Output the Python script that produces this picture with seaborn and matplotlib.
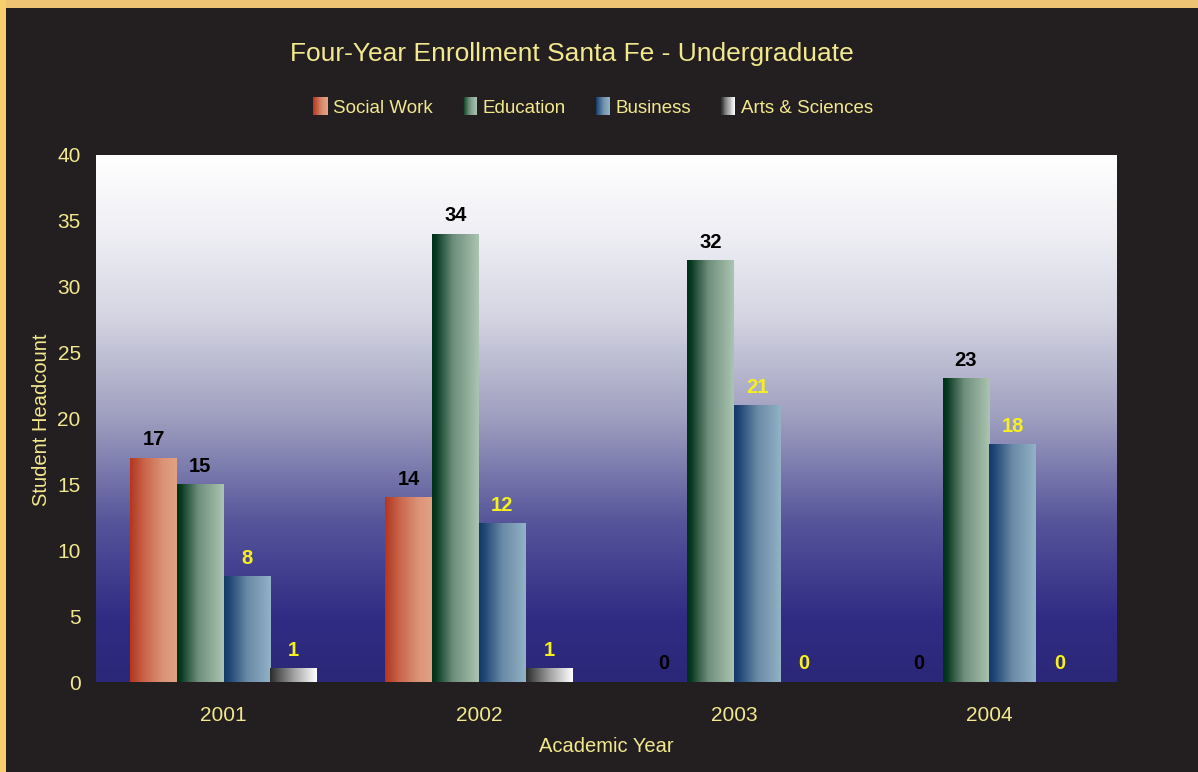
import numpy as np
import pandas as pd
import matplotlib
matplotlib.use("Agg")
import matplotlib.pyplot as plt
from matplotlib.colors import LinearSegmentedColormap
from matplotlib.patches import Rectangle
from matplotlib.legend_handler import HandlerBase
import seaborn as sns

# ---- data ----
years = ["2001", "2002", "2003", "2004"]
programs = ["Social Work", "Education", "Business", "Arts & Sciences"]
social_work = [17, 14, 0, 0]
education = [15, 34, 32, 23]
business = [8, 12, 21, 18]
arts_sciences = [1, 1, 0, 0]

series = {"Social Work": social_work, "Education": education,
          "Business": business, "Arts & Sciences": arts_sciences}
df = pd.DataFrame([(y, p, series[p][i]) for p in programs for i, y in enumerate(years)],
                  columns=["Academic Year", "Program", "Headcount"])

# ---- styling ----
BG = "#231f20"
TXT = "#f2e88e"
sns.set_theme(style="white")
plt.rcParams["font.family"] = ["Liberation Sans", "DejaVu Sans"]

bar_cmaps = {
    "Social Work": LinearSegmentedColormap.from_list(
        "sw", [(0, "#b3361f"), (0.3, "#c9644a"), (0.7, "#db9276"), (1, "#e2a383")]),
    "Education": LinearSegmentedColormap.from_list(
        "ed", [(0, "#00301a"), (0.08, "#07391f"), (0.45, "#6e8e7c"), (1, "#abc4b1")]),
    "Business": LinearSegmentedColormap.from_list(
        "bu", [(0, "#143a6a"), (0.1, "#1d4474"), (0.5, "#6a8aa6"), (1, "#92b2c6")]),
    "Arts & Sciences": LinearSegmentedColormap.from_list(
        "as", [(0, "#2c2c2c"), (0.5, "#a0a0a0"), (1, "#ffffff")]),
}
label_colors = {"Social Work": "black", "Education": "black",
                "Business": "#f5f01e", "Arts & Sciences": "#f5f01e"}

bg_cmap = LinearSegmentedColormap.from_list(
    "bg", [(0, "#2b2878"), (0.12, "#302c84"), (0.3, "#55549a"),
           (0.5, "#9e9ebf"), (0.7, "#d6d6e3"), (0.85, "#eeeef4"), (1, "#ffffff")])

fig = plt.figure(figsize=(11.98, 7.72), dpi=100, facecolor=BG)
ax = fig.add_axes([96 / 1198, 90 / 772, 1021 / 1198, 527 / 772])

sns.barplot(data=df, x="Academic Year", y="Headcount", hue="Program",
            hue_order=programs, order=years, width=0.733, ax=ax,
            legend=False, errorbar=None, palette=["#cc6a50", "#6e8e7c", "#6a8aa6", "#a0a0a0"])

ax.set_xlim(-0.5, 3.5)
ax.set_ylim(0, 40)

# vertical gradient backdrop of the plotting area
grad = np.linspace(0, 1, 256).reshape(-1, 1)
ax.imshow(grad, cmap=bg_cmap, origin="lower", extent=[0, 1, 0, 1],
          transform=ax.transAxes, aspect="auto", zorder=0)

# horizontal gradient fill for each bar + value labels
hgrad = np.linspace(0, 1, 128).reshape(1, -1)
for prog, cont in zip(programs, ax.containers):
    for rect, val in zip(cont.patches, series[prog]):
        x0, w = rect.get_x(), rect.get_width()
        h = rect.get_height()
        rect.set_visible(False)
        if h > 0:
            ax.imshow(hgrad, cmap=bar_cmaps[prog], extent=[x0, x0 + w, 0, h],
                      aspect="auto", zorder=2, interpolation="bilinear")
        ax.annotate(f"{val}", (x0 + w / 2, h), xytext=(0, 13), textcoords="offset points",
                    ha="center", va="center", fontsize=14.5, fontweight="bold",
                    color=label_colors[prog], zorder=3)

ax.set_xlim(-0.5, 3.5)
ax.set_ylim(0, 40)
ax.set_yticks(range(0, 41, 5))
for s in ax.spines.values():
    s.set_visible(False)
ax.tick_params(axis="both", colors=TXT, labelsize=15, length=0)
ax.tick_params(axis="y", pad=11)
ax.tick_params(axis="x", pad=17)
ax.set_xlabel("Academic Year", color=TXT, fontsize=14.5)
ax.set_ylabel("Student Headcount", color=TXT, fontsize=14.5)
ax.xaxis.set_label_coords(0.4995, -(746 - 682) / 527)
ax.yaxis.set_label_coords((42 - 96) / 1021, 0.497)
ax.xaxis.label.set_va("center")
ax.yaxis.label.set_va("center")

fig.text(572 / 1198, 1 - 54 / 772, "Four-Year Enrollment Santa Fe - Undergraduate",
         ha="center", va="center", color=TXT, fontsize=19)


# legend keys drawn as small horizontal gradients
class GradientHandler(HandlerBase):
    def __init__(self, cmap):
        super().__init__()
        self.cmap = cmap

    def create_artists(self, legend, orig_handle, xdescent, ydescent, width, height,
                       fontsize, trans):
        n = 16
        arts = []
        for i in range(n):
            arts.append(Rectangle((-xdescent + width * i / n, -ydescent), width / n + 0.3, height,
                                  facecolor=self.cmap((i + 0.5) / n), edgecolor="none",
                                  transform=trans))
        return arts


handles = [Rectangle((0, 0), 1, 1) for _ in programs]
hmap = {h: GradientHandler(bar_cmaps[p]) for h, p in zip(handles, programs)}
leg = fig.legend(handles, programs, handler_map=hmap, loc="center",
                 bbox_to_anchor=(593 / 1198, 1 - 107 / 772), ncol=4, frameon=False,
                 fontsize=13.5, handlelength=0.75, handleheight=1.05, handletextpad=0.3,
                 columnspacing=1.6)
for t in leg.get_texts():
    t.set_color(TXT)

# golden frame strips along the top and left edges
fig.patches.append(Rectangle((0, 1 - 8 / 772), 1, 8 / 772, transform=fig.transFigure,
                             facecolor="#eec474", edgecolor="none", zorder=10))
fig.patches.append(Rectangle((0, 0), 6 / 1198, 1, transform=fig.transFigure,
                             facecolor="#f9cf6b", edgecolor="none", zorder=10))

fig.savefig("out.png", dpi=100, facecolor=BG)
